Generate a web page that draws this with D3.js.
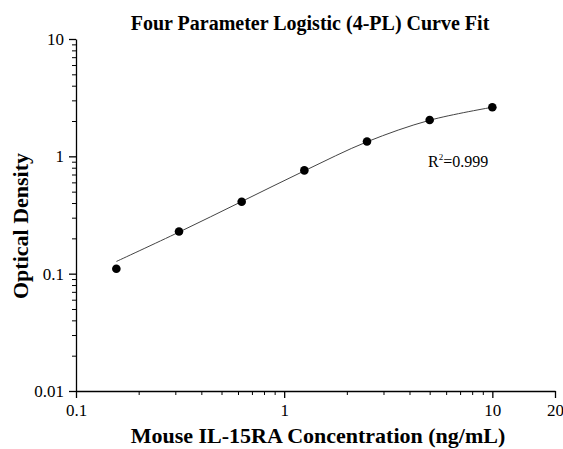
<!DOCTYPE html>
<html>
<head>
<meta charset="utf-8">
<script src="https://cdn.jsdelivr.net/npm/d3@7"></script>
<style>
  body { margin: 0; background: #fff; }
  svg text { font-family: "Liberation Serif", "Times New Roman", serif; fill: #000; }
</style>
</head>
<body>
<div id="chart"></div>
<script>
// data
const concentrations = [0.15625, 0.3125, 0.625, 1.25, 2.5, 5, 10];
const opticalDensity = [0.110, 0.229, 0.410, 0.759, 1.336, 2.04, 2.62];
// fitted 4-PL curve, read at the standard concentrations
const fitValues = [0.127, 0.226, 0.412, 0.752, 1.33, 2.03, 2.62];

const xMajorTicks = [0.1, 1, 10, 20];
const xMinorTicks = [0.2, 0.3, 0.4, 0.5, 0.6, 0.7, 0.8, 0.9, 2, 3, 4, 5, 6, 7, 8, 9];
const yMajorTicks = [0.01, 0.1, 1, 10];
const yMinorTicks = [0.02, 0.03, 0.04, 0.05, 0.06, 0.07, 0.08, 0.09,
                     0.2, 0.3, 0.4, 0.5, 0.6, 0.7, 0.8, 0.9,
                     2, 3, 4, 5, 6, 7, 8, 9];

const chartTitle = "Four Parameter Logistic (4-PL) Curve Fit";
const xTitle = "Mouse IL-15RA Concentration (ng/mL)";
const yTitle = "Optical Density";
const r2Label = "0.999";

// chart dimensions
const W = 563, H = 449;
const margin = {top: 39, right: 8, bottom: 58, left: 76},
  width = W - margin.left - margin.right,
  height = H - margin.top - margin.bottom;

const svg = d3.select("#chart").append("svg")
  .attr("width", W)
  .attr("height", H);

const g = svg.append("g")
  .attr("transform", "translate(" + margin.left + "," + margin.top + ")");

const x = d3.scaleLog().domain([0.1, 20]).range([0, width]);
const y = d3.scaleLog().domain([0.01, 10]).range([height, 0]);

// minor ticks first
g.append("g")
  .attr("transform", "translate(0," + height + ")")
  .call(d3.axisBottom(x).tickValues(xMinorTicks).tickSize(4).tickFormat(""))
  .call(a => a.select(".domain").remove());

g.append("g")
  .call(d3.axisLeft(y).tickValues(yMinorTicks).tickSize(4).tickFormat(""))
  .call(a => a.select(".domain").remove());

// major ticks + axis lines
const xAxis = g.append("g")
  .attr("transform", "translate(0," + height + ")")
  .call(d3.axisBottom(x).tickValues(xMajorTicks).tickSize(7).tickSizeOuter(0)
    .tickFormat(d => String(d)));

const yAxis = g.append("g")
  .call(d3.axisLeft(y).tickValues(yMajorTicks).tickSize(7).tickSizeOuter(0)
    .tickFormat(d => String(d)));

[xAxis, yAxis].forEach(a => {
  a.selectAll("text")
    .style("font-family", "'Liberation Serif', serif")
    .style("font-size", "17px");
  a.selectAll("line, path").attr("stroke", "#000").attr("stroke-width", 1.3);
});
xAxis.selectAll("text").attr("y", 11).attr("dy", "0.8em");
yAxis.selectAll("text").attr("x", -12);

// fitted curve
const fitData = concentrations.map((c, i) => ({c: c, v: fitValues[i]}));
const line = d3.line()
  .x(d => x(d.c))
  .y(d => y(d.v))
  .curve(d3.curveCatmullRom);

g.append("path")
  .datum(fitData)
  .attr("fill", "none")
  .attr("stroke", "#444")
  .attr("stroke-width", 1)
  .attr("d", line);

// measured points
g.selectAll(".dot")
  .data(concentrations)
  .enter().append("circle")
  .attr("class", "dot")
  .attr("cx", d => x(d))
  .attr("cy", (d, i) => y(opticalDensity[i]))
  .attr("r", 4.3)
  .attr("fill", "#000");

// R squared label
const r2 = g.append("text")
  .attr("x", 428 - margin.left)
  .attr("y", 167 - margin.top)
  .style("font-size", "16px");
r2.append("tspan").text("R");
r2.append("tspan").attr("dy", -7).style("font-size", "9px").text("2");
r2.append("tspan").attr("dy", 7).text("=" + r2Label);

// titles
svg.append("text")
  .attr("x", 310)
  .attr("y", 30)
  .attr("text-anchor", "middle")
  .style("font-size", "20px")
  .style("font-weight", "bold")
  .text(chartTitle);

svg.append("text")
  .attr("x", 318)
  .attr("y", 443)
  .attr("text-anchor", "middle")
  .style("font-size", "22px")
  .style("font-weight", "bold")
  .text(xTitle);

svg.append("text")
  .attr("transform", "translate(28,226) rotate(-90)")
  .attr("text-anchor", "middle")
  .style("font-size", "22px")
  .style("font-weight", "bold")
  .text(yTitle);
</script>
</body>
</html>
